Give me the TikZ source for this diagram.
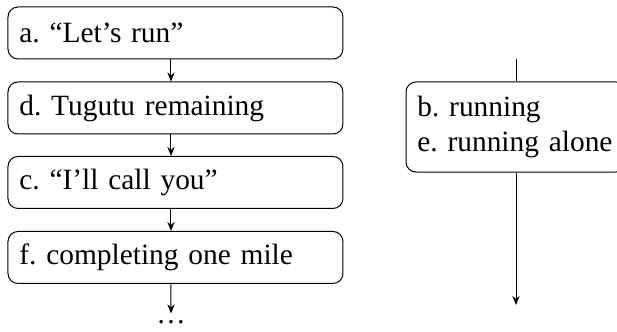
\documentclass[tikz,border=0pt]{standalone}
\usepackage{fontspec}
\setmainfont{Liberation Serif}
\frenchspacing
\usetikzlibrary{arrows.meta}

\begin{document}
\begin{tikzpicture}[line width=0.5pt, >={Stealth[length=4.5pt, width=3.6pt]},
  font=\fontsize{14.7}{17.5}\selectfont,
  box/.style={draw, rounded corners=5pt, inner xsep=0.2cm, align=left}]
\useasboundingbox (0, 0) rectangle (10.843, 5.834);

\node (A) at (3.084, 5.254) [box, text width=5.487cm, minimum height=0.914cm] {a. ``Let's run''};
\node (D) at (3.084, 3.936) [box, text width=5.487cm, minimum height=0.914cm] {d. Tugutu remaining};
\node (C) at (3.084, 2.627) [box, text width=5.487cm, minimum height=0.914cm] {c. ``I'll call you''};
\node (F) at (3.084, 1.309) [box, text width=5.487cm, minimum height=0.914cm] {f. completing one mile};
\node (G) at (3.005, 0.17) {\dots};

\draw ([xshift=-2.25pt]A.south) edge [->] ([xshift=-2.25pt]D.north);
\draw ([xshift=-2.25pt]D.south) edge [->] ([xshift=-2.25pt]C.north);
\draw ([xshift=-2.25pt]C.south) edge [->] ([xshift=-2.25pt]F.north);
\draw ([xshift=-2.25pt]F.south) edge [->] (G.north);

\node (BE) at (9.068, 3.602) [box, text width=3.466cm, minimum height=1.582cm] {b. running\\e. running alone};
\coordinate (T) at (9.068, 4.797);
\coordinate (E) at (9.068, 0.474);

\draw (T) -- (BE);
\draw (BE) edge [->] (E);
\end{tikzpicture}
\end{document}
